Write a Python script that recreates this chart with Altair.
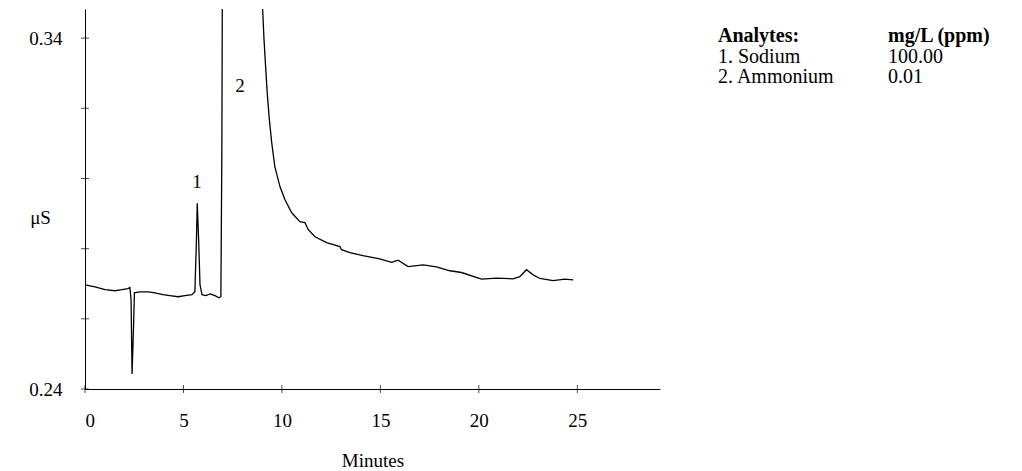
import altair as alt
import pandas as pd

# Chromatogram trace (minutes, µS)
times = [0.0, 0.51, 1.02, 1.52, 1.88, 2.18, 2.28, 2.34, 2.39, 2.46, 2.51, 2.79, 3.20, 3.55,
         3.96, 4.31, 4.72, 5.08, 5.43, 5.58, 5.66, 5.70, 5.77, 5.84, 5.94, 6.14, 6.35, 6.60,
         6.80, 6.90, 6.95, 7.00, 7.50, 8.20, 8.60, 9.02, 9.09, 9.17, 9.25, 9.36, 9.48, 9.64,
         9.90, 10.15, 10.49, 10.91, 11.17, 11.34, 11.68, 12.27, 12.94, 13.03, 13.45, 14.11,
         14.97, 15.57, 15.90, 16.41, 17.17, 17.85, 18.53, 19.12, 20.14, 20.90, 21.74, 22.08,
         22.42, 22.74, 23.10, 23.77, 24.37, 24.79]
signal = [0.2697, 0.2691, 0.2683, 0.2680, 0.2683, 0.2686, 0.2689, 0.2654, 0.2443, 0.2569,
          0.2674, 0.2677, 0.2677, 0.2674, 0.2669, 0.2666, 0.2663, 0.2666, 0.2669, 0.2677,
          0.2826, 0.2929, 0.2826, 0.2697, 0.2669, 0.2666, 0.2671, 0.2666, 0.2660, 0.2663,
          0.3083, 0.4000, 0.6000, 0.5500, 0.4000, 0.3483, 0.3397, 0.3321, 0.3246, 0.3169,
          0.3103, 0.3034, 0.2977, 0.2940, 0.2903, 0.2877, 0.2874, 0.2854, 0.2834, 0.2817,
          0.2806, 0.2797, 0.2789, 0.2780, 0.2771, 0.2761, 0.2767, 0.2749, 0.2754, 0.2748,
          0.2737, 0.2732, 0.2713, 0.2716, 0.2714, 0.2720, 0.2740, 0.2726, 0.2715, 0.2709,
          0.2713, 0.2711]

peak_labels = ["1", "2"]
peak_label_t = [5.69, 7.87]
peak_label_y = [0.2989, 0.3263]

x_ticks = [0, 5, 10, 15, 20, 25]
y_ticks = [0.24, 0.26, 0.28, 0.30, 0.32, 0.34]

analytes = ["1. Sodium", "2. Ammonium"]
concentrations = ["100.00", "0.01"]
header = ["Analytes:", "mg/L (ppm)"]

FONT = "Liberation Serif"
FS = 19
LFS = 20
X_DOMAIN = [0, 29.2]
Y_DOMAIN = [0.24, 0.3483]

trace = pd.DataFrame({"t": times, "s": signal})
peaks = pd.DataFrame({"t": peak_label_t, "s": peak_label_y, "label": peak_labels})
xt = pd.DataFrame({"t": x_ticks, "s": [Y_DOMAIN[0]] * len(x_ticks)})
yt = pd.DataFrame({"t": [0] * len(y_ticks), "s": y_ticks})

x_scale = alt.Scale(domain=X_DOMAIN, nice=False, zero=False)
y_scale = alt.Scale(domain=Y_DOMAIN, nice=False, zero=False)

line = alt.Chart(trace).mark_line(color="black", strokeWidth=1.3, clip=True).encode(
    x=alt.X("t:Q", scale=x_scale,
            axis=alt.Axis(values=x_ticks, title="Minutes", ticks=False, tickSize=0,
                          labelPadding=22, titleY=71, titleBaseline="middle")),
    y=alt.Y("s:Q", scale=y_scale,
            axis=alt.Axis(values=y_ticks, title="μS", ticks=False, tickSize=0,
                          labelPadding=23,
                          labelExpr="(abs(datum.value-0.24)<0.001 || abs(datum.value-0.34)<0.001) ? format(datum.value, '.2f') : ''",
                          titleAngle=0, titleX=-45, titleY=208, titleAlign="center",
                          titleBaseline="middle")),
)

xticks = alt.Chart(xt).mark_tick(orient="vertical", color="black", size=8, thickness=1, clip=False).encode(
    x=alt.X("t:Q", scale=x_scale), y=alt.Y("s:Q", scale=y_scale))
yticks = alt.Chart(yt).mark_tick(orient="horizontal", color="black", size=8, thickness=1, clip=False).encode(
    x=alt.X("t:Q", scale=x_scale), y=alt.Y("s:Q", scale=y_scale))

plabels = alt.Chart(peaks).mark_text(font=FONT, fontSize=FS, color="black").encode(
    x=alt.X("t:Q", scale=x_scale), y=alt.Y("s:Q", scale=y_scale), text="label:N")

legend_layers = [
    alt.Chart(pd.DataFrame({"v": [header[0]]})).mark_text(
        font=FONT, fontSize=LFS, fontWeight="bold", align="left", baseline="middle", color="black"
    ).encode(x=alt.value(633), y=alt.value(27), text="v:N"),
    alt.Chart(pd.DataFrame({"v": [header[1]]})).mark_text(
        font=FONT, fontSize=LFS, fontWeight="bold", align="left", baseline="middle", color="black"
    ).encode(x=alt.value(803), y=alt.value(27), text="v:N"),
]
for i, (a, c) in enumerate(zip(analytes, concentrations)):
    yy = 47.5 + i * 20
    legend_layers.append(
        alt.Chart(pd.DataFrame({"v": [a]})).mark_text(
            font=FONT, fontSize=LFS, align="left", baseline="middle", color="black"
        ).encode(x=alt.value(633), y=alt.value(yy), text="v:N"))
    legend_layers.append(
        alt.Chart(pd.DataFrame({"v": [c]})).mark_text(
            font=FONT, fontSize=LFS, align="left", baseline="middle", color="black"
        ).encode(x=alt.value(803), y=alt.value(yy), text="v:N"))

chart = alt.layer(line, xticks, yticks, plabels, *legend_layers).properties(
    width=575, height=380,
    autosize=alt.AutoSizeParams(type="none"),
    padding={"left": 85, "top": 9, "right": 362, "bottom": 82},
    background="white",
).configure_view(stroke=None).configure_axis(
    grid=False, domainColor="black", domainWidth=1, labelColor="black", titleColor="black",
    labelFont=FONT, titleFont=FONT, labelFontSize=FS, titleFontSize=FS, titleFontWeight="normal",
)

chart.save("out.html", embed_options={"renderer": "svg", "actions": False})
